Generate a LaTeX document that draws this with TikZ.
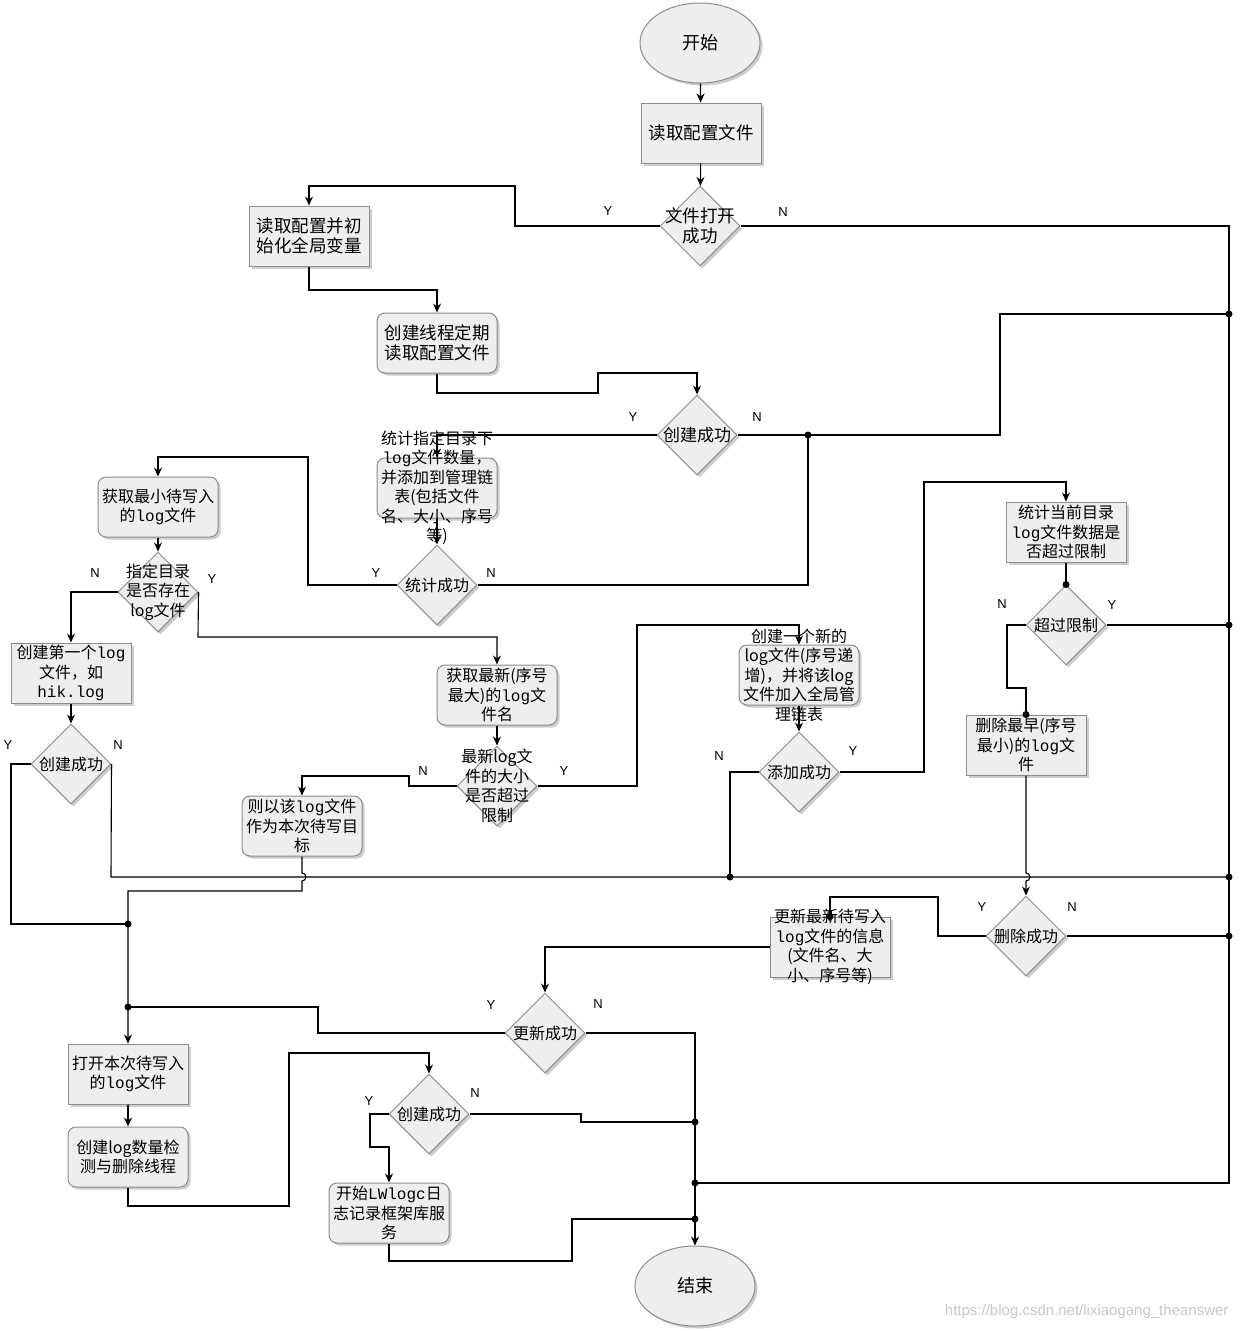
\documentclass[tikz,border=0pt]{standalone}
\usepackage{fontspec}
\setmainfont{Noto Sans CJK SC}
\newfontfamily\latf{Liberation Sans}
\newfontfamily\monof{Liberation Mono}
\usetikzlibrary{shapes.geometric,arrows.meta,shadows}
\definecolor{boxc}{RGB}{238,238,238}
\definecolor{bordc}{RGB}{140,140,140}
\definecolor{shc}{RGB}{205,205,205}
\newcommand{\bxfont}{\fontsize{16}{19.5}\selectfont}
\newcommand{\bgfont}{\fontsize{17.5}{20}\selectfont}
\newcommand{\mlog}{{\monof log}}
\begin{document}
\begin{tikzpicture}[x=1pt,y=-1pt,
  base/.style={draw=bordc, fill=boxc, line width=1pt,
    drop shadow={shadow xshift=2.5pt, shadow yshift=-2.5pt, fill=shc, opacity=1}},
  rbox/.style={base, rectangle, minimum width=120pt, minimum height=60pt, inner sep=0pt, align=center, font=\bxfont},
  rrbox/.style={rbox, rounded corners=8pt},
  dia/.style={base, diamond, minimum width=80pt, minimum height=80pt, inner sep=0pt},
  term/.style={base, ellipse, minimum width=120pt, minimum height=80pt, inner sep=0pt, font=\fontsize{18}{20}\selectfont},
  tl/.style={align=center, inner sep=0pt, font=\bxfont},
  tlb/.style={align=center, inner sep=0pt, font=\bgfont},
  yn/.style={font=\latf\fontsize{13}{15}\selectfont, inner sep=0pt},
  con/.style={line width=1.1pt, draw=black},
  arr/.style={con, -{Stealth[length=9pt,width=8pt]}},
  jd/.style={fill=black}
]
\useasboundingbox (0,0) rectangle (1240,1331);

% ---------- nodes ----------
\node[term] (start) at (700,43) {开始};
\node[rbox, font=\bgfont] (b1) at (701,133) {读取配置文件};
\node[dia, label={[tlb]center:{文件打开\\成功}}] (d1) at (700,226) {};
\node[rbox, font=\bgfont] (b2) at (309,236) {读取配置并初\\始化全局变量};
\node[rrbox, font=\bgfont] (b3) at (437,343) {创建线程定期\\读取配置文件};
\node[dia, label={[tl,font=\fontsize{17}{20}\selectfont]center:{创建成功}}] (d2) at (697,435) {};
\node[rrbox, label={[tl]center:{统计指定目录下\\\mlog 文件数量，\\并添加到管理链\\表(包括文件\\名、大小、序号\\等)}}] (b4) at (437,488) {};
\node[dia, label={[tl]center:{统计成功}}] (d3) at (437,585) {};
\node[rrbox] (b5) at (158,507) {获取最小待写入\\的\mlog 文件};
\node[dia, label={[tl]center:{指定目录\\是否存在\\log文件}}] (d4) at (158,592) {};
\node[rbox] (b6) at (71,673) {创建第一个\mlog\\文件，如\\{\monof hik.log}};
\node[dia, label={[tl]center:{创建成功}}] (d5) at (71,764) {};
\node[rrbox] (b7) at (497,695) {获取最新(序号\\最大)的\mlog 文\\件名};
\node[dia, label={[tl]center:{最新log文\\件的大小\\是否超过\\限制}}] (d6) at (497,786) {};
\node[rrbox] (b8) at (302,826) {则以该\mlog 文件\\作为本次待写目\\标};
\node[rrbox, label={[tl]center:{创建一个新的\\log文件(序号递\\增)，并将该log\\文件加入全局管\\理链表}}] (b9) at (799,675) {};
\node[dia, label={[tl]center:{添加成功}}] (d7) at (799,772) {};
\node[rbox] (b10) at (1066,532) {统计当前目录\\\mlog 文件数据是\\否超过限制};
\node[dia, label={[tl]center:{超过限制}}] (d8) at (1066,625) {};
\node[rbox] (b11) at (1026,745) {删除最早(序号\\最小)的\mlog 文\\件};
\node[dia, label={[tl]center:{删除成功}}] (d9) at (1026,936) {};
\node[rbox, label={[tl]center:{更新最新待写入\\\mlog 文件的信息\\(文件名、大\\小、序号等)}}] (b12) at (830,947) {};
\node[dia, label={[tl]center:{更新成功}}] (d10) at (545,1033) {};
\node[rbox] (b13) at (128,1074) {打开本次待写入\\的\mlog 文件};
\node[rrbox] (b14) at (128,1157) {创建log数量检\\测与删除线程};
\node[dia, label={[tl]center:{创建成功}}] (d11) at (429,1114) {};
\node[rrbox] (b15) at (389,1213) {开始{\monof LWlogc}日\\志记录框架库服\\务};
\node[term] (end) at (695,1286) {结束};

% ---------- Y / N labels ----------
\node[yn] (y1) at (608,211) {Y};
\node[yn] (n1) at (783,212) {N};
\node[yn] (y2) at (633,417) {Y};
\node[yn] (n2) at (757,417) {N};
\node[yn] (y3) at (376,573) {Y};
\node[yn] (n3) at (491,573) {N};
\node[yn] (n4) at (95,573) {N};
\node[yn] (y4) at (212,579) {Y};
\node[yn] (y5) at (8,745) {Y};
\node[yn] (n5) at (118,745) {N};
\node[yn] (n6) at (423,771) {N};
\node[yn] (y6) at (564,771) {Y};
\node[yn] (n7) at (719,756) {N};
\node[yn] (y7) at (853,751) {Y};
\node[yn] (n8) at (1002,604) {N};
\node[yn] (y8) at (1112,605) {Y};
\node[yn] (y9) at (982,907) {Y};
\node[yn] (n9) at (1072,907) {N};
\node[yn] (y10) at (491,1005) {Y};
\node[yn] (n10) at (598,1004) {N};
\node[yn] (y11) at (369,1101) {Y};
\node[yn] (n11) at (475,1093) {N};

% ---------- junctions ----------
\coordinate (j1) at (808,435);
\coordinate (r1) at (1229,314);
\coordinate (r2) at (1229,625);
\coordinate (r3) at (1229,877);
\coordinate (r4) at (1229,936);
\coordinate (r5) at (1229,1183);
\coordinate (h1) at (730,877);
\coordinate (l1) at (128,924);
\coordinate (l2) at (128,1007);
\coordinate (e1) at (695,1122);
\coordinate (e2) at (695,1183);
\coordinate (e3) at (695,1219);

% ---------- connectors ----------
\draw[arr] (start) -- (b1);
\draw[arr] (b1) -- (d1);
\draw[arr] (d1.west) -- (515,226) -- (515,186) -| (b2.north);
\draw[con] (d1.east) -- (1229,226) -- (r5) -- (e2);
\draw[arr] (b2.south) -- (309,290) -| (b3.north);
\draw[arr] (b3.south) -- (437,393) -- (598,393) -- (598,373) -| (d2.north);
\draw[arr] (d2.west) -| (b4.north);
\draw[con] (d2.east) -- (j1) -- (1000,435) -- (1000,314) -- (r1);
\draw[con] (d3.east) -- (808,585) -- (j1);
\draw[arr] (b4) -- (d3);
\draw[arr] (d3.west) -- (308,585) -- (308,457) -| (b5.north);
\draw[arr] (b5) -- (d4);
\draw[arr] (d4.west) -| (b6.north);
\draw[arr] (d4.east) -- (198,637) -| (b7.north);
\draw[arr] (b6) -- (d5);
\draw[con] (d5.west) -- (11,764) -- (11,924) -- (l1);
\draw[con] (d5.east) -- (111,877) -- (r3);
\draw[arr] (b7) -- (d6);
\draw[arr] (d6.west) -- (409,786) -- (409,776) -| (b8.north);
\draw[arr] (d6.east) -- (637,786) -- (637,625) -| (b9.north);
\draw[arr] (b8.south) -- (302,873) arc[start angle=90, end angle=-90, radius=4pt]
   -- (302,891) -- (128,891) -- (b13.north);
\draw[arr] (b9) -- (d7);
\draw[con] (d7.west) -- (730,772) -- (h1);
\draw[arr] (d7.east) -- (924,772) -- (924,482) -| (b10.north);
\draw[con] (b10) -- (d8);
\draw[con] (d8.east) -- (r2);
\draw[con] (d8.west) -- (1007,625) -- (1007,688) -- (1026,688) -- (b11.north);
\draw[arr] (b11.south) -- (1026,873) arc[start angle=90, end angle=-90, radius=4pt] -- (d9.north);
\draw[con] (d9.east) -- (r4);
\draw[con] (d9.west) -- (938,936) -- (938,897) -- (830,897) -- (b12.north);
\draw[arr] (b12.west) -| (d10.north);
\draw[con] (d10.west) -- (318,1033) -- (318,1007) -- (l2);
\draw[arr] (d10.east) -- (695,1033) -- (end.north);
\draw[arr] (b13) -- (b14);
\draw[arr] (b14.south) -- (128,1206) -- (289,1206) -- (289,1053) -| (d11.north);
\draw[arr] (d11.west) -- (370,1114) -- (370,1147) -- (389,1147) -- (b15.north);
\draw[con] (d11.east) -- (581,1114) -- (581,1122) -- (e1);
\draw[con] (b15.south) -- (389,1261) -- (572,1261) -- (572,1219) -- (e3);

% junction dots
\foreach \p in {j1,r1,r2,r3,r4,h1,l1,l2,e1,e2,e3,d8.north,b11.north,b12.north}
  \fill (\p) circle[radius=3.5pt];

% watermark
\node[anchor=east, text=black!22, font=\latf\fontsize{15}{17}\selectfont] (wm) at (1232,1312) {https://blog.csdn.net/lixiaogang\_theanswer};
\end{tikzpicture}
\end{document}
